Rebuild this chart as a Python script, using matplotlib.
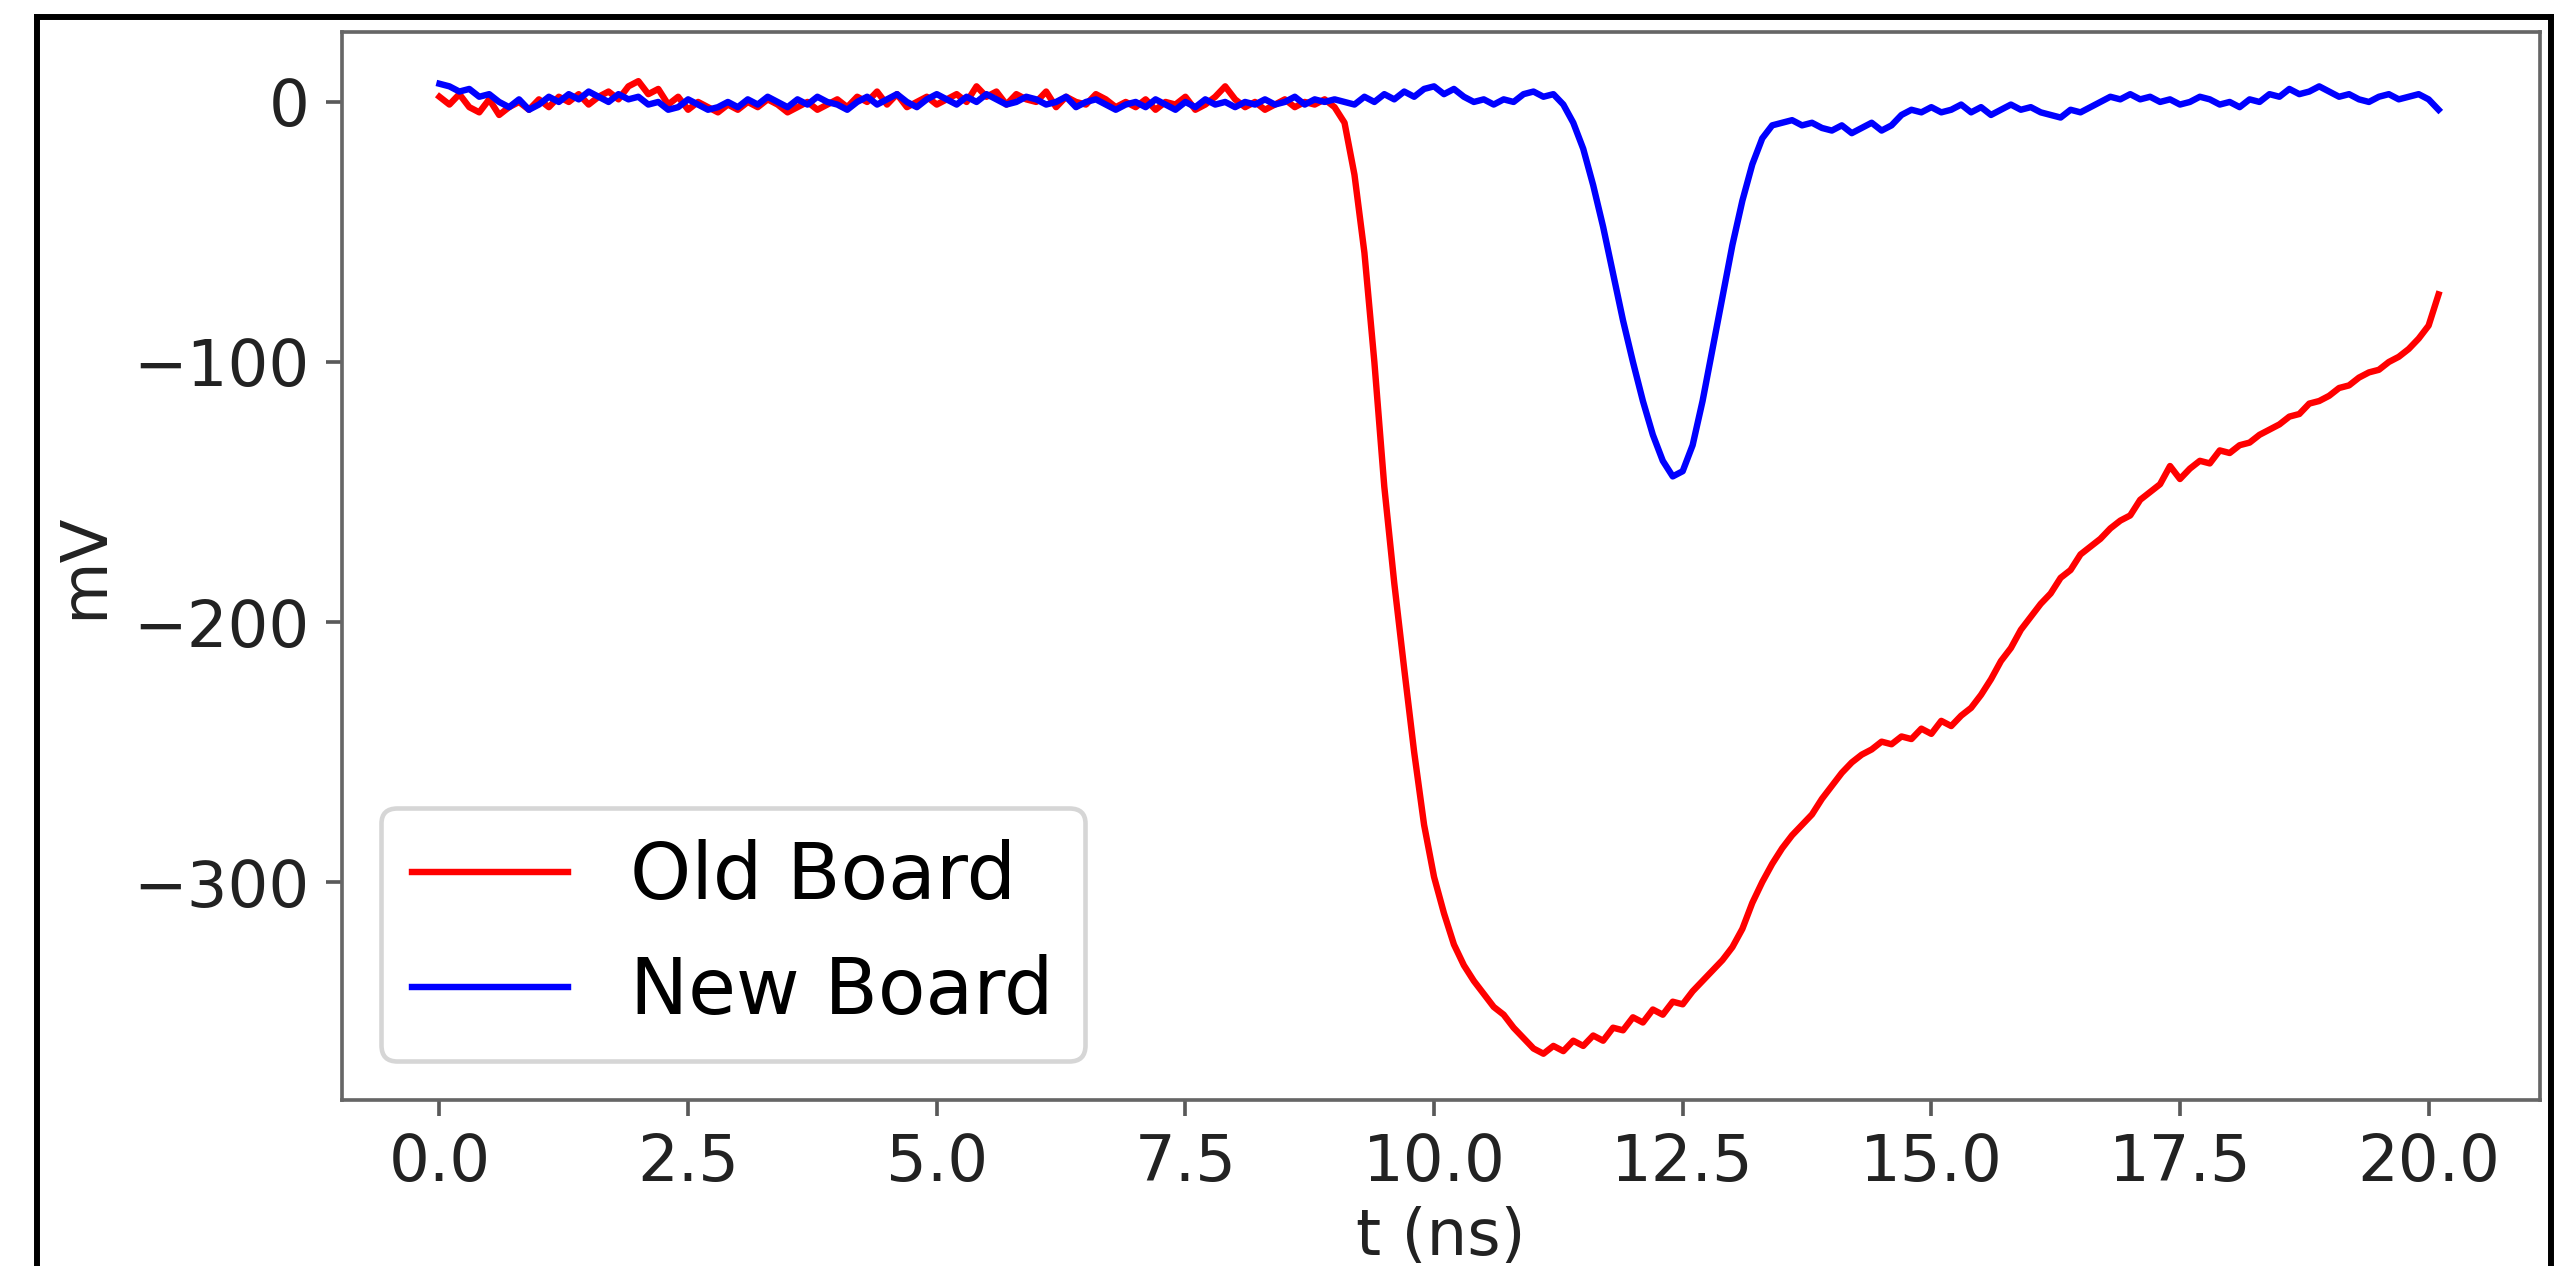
import numpy as np
import matplotlib.pyplot as plt
from matplotlib.lines import Line2D

# sample times (ns), 0.1 ns step
t = np.round(np.arange(0, 202) * 0.1, 1)

# Old board trace (mV)
old_board = [
    2, -1, 3, -2, -4, 1, -5, -2, 0, -3,
    1, -2, 2, 0, 3, -1, 2, 4, 1, 6,
    8, 3, 5, -1, 2, -3, 0, -2, -4, -1,
    -3, 0, -2, 1, -1, -4, -2, 0, -3, -1,
    1, -2, 2, 0, 4, -1, 3, -2, 0, 2,
    -1, 1, 3, 0, 6, 2, 4, -1, 3, 1,
    0, 4, -2, 2, 0, -1, 3, 1, -2, 0,
    -2, 1, -3, 0, -1, 2, -3, -1, 2, 6,
    1, -2, 0, -3, -1, 1, -2, 0, -1, 1,
    -2, -8, -28, -58, -100, -148, -185, -218, -250, -278,
    -298, -312, -324, -332, -338, -343, -348, -351, -356, -360,
    -364, -366, -363, -365, -361, -363, -359, -361, -356, -357,
    -352, -354, -349, -351, -346, -347, -342, -338, -334, -330,
    -325, -318, -308, -300, -293, -287, -282, -278, -274, -268,
    -263, -258, -254, -251, -249, -246, -247, -244, -245, -241,
    -243, -238, -240, -236, -233, -228, -222, -215, -210, -203,
    -198, -193, -189, -183, -180, -174, -171, -168, -164, -161,
    -159, -153, -150, -147, -140, -145, -141, -138, -139, -134,
    -135, -132, -131, -128, -126, -124, -121, -120, -116, -115,
    -113, -110, -109, -106, -104, -103, -100, -98, -95, -91,
    -86, -74,
]

# New board trace (mV)
new_board = [
    7, 6, 4, 5, 2, 3, 0, -2, 1, -3,
    -1, 2, 0, 3, 1, 4, 2, 0, 3, 1,
    2, -1, 0, -3, -2, 1, -1, -3, -2, 0,
    -2, 1, -1, 2, 0, -2, 1, -1, 2, 0,
    -1, -3, 0, 2, -1, 1, 3, 0, -2, 1,
    3, 1, -1, 2, 0, 3, 1, -1, 0, 2,
    1, -1, 0, 2, -2, 0, 1, -1, -3, -1,
    0, -2, 1, -1, -3, 0, -2, 1, -1, 0,
    -2, 0, -1, 1, -1, 0, 2, -1, 1, 0,
    1, 0, -1, 2, 0, 3, 1, 4, 2, 5,
    6, 3, 5, 2, 0, 1, -1, 1, 0, 3,
    4, 2, 3, -1, -8, -18, -32, -48, -66, -84,
    -100, -115, -128, -138, -144, -142, -132, -115, -95, -75,
    -55, -38, -24, -14, -9, -8, -7, -9, -8, -10,
    -11, -9, -12, -10, -8, -11, -9, -5, -3, -4,
    -2, -4, -3, -1, -4, -2, -5, -3, -1, -3,
    -2, -4, -5, -6, -3, -4, -2, 0, 2, 1,
    3, 1, 2, 0, 1, -1, 0, 2, 1, -1,
    0, -2, 1, 0, 3, 2, 5, 3, 4, 6,
    4, 2, 3, 1, 0, 2, 3, 1, 2, 3,
    1, -3,
]

dpi = 330
fig = plt.figure(figsize=(2561 / dpi, 1266 / dpi), dpi=dpi)
ax = fig.add_axes([342 / 2561, 1 - 1100 / 1266, (2540 - 342) / 2561, (1100 - 32) / 1266])

ax.plot(t, old_board, color='red', lw=1.4, label='Old Board')
ax.plot(t, new_board, color='blue', lw=1.4, label='New Board')

ax.set_xlim(-0.98, 21.12)
ax.set_ylim(-383.8, 26.9)
ax.set_xticks(np.arange(0, 20.1, 2.5))
ax.set_yticks([0, -100, -200, -300])
ax.tick_params(labelsize=14, colors='0.35', labelcolor='#222222')
for s in ax.spines.values():
    s.set_color('0.4')

ax.set_xlabel('t (ns)', fontsize=14, color='#222222', labelpad=2.5)
ax.set_ylabel('mV', fontsize=14, color='#222222')
ax.legend(loc='lower left', fontsize=17)

# black frame around the picture (bottom edge cut off)
kw = dict(color='black', lw=1.3, transform=fig.transFigure)
xl, xr, yt = 36.5 / 2561, 2551 / 2561, 1 - 16.5 / 1266
fig.add_artist(Line2D([xl, xl], [0, yt], **kw))
fig.add_artist(Line2D([xl, xr], [yt, yt], **kw))
fig.add_artist(Line2D([xr, xr], [0, yt], **kw))

fig.savefig('out.png', dpi=dpi)
